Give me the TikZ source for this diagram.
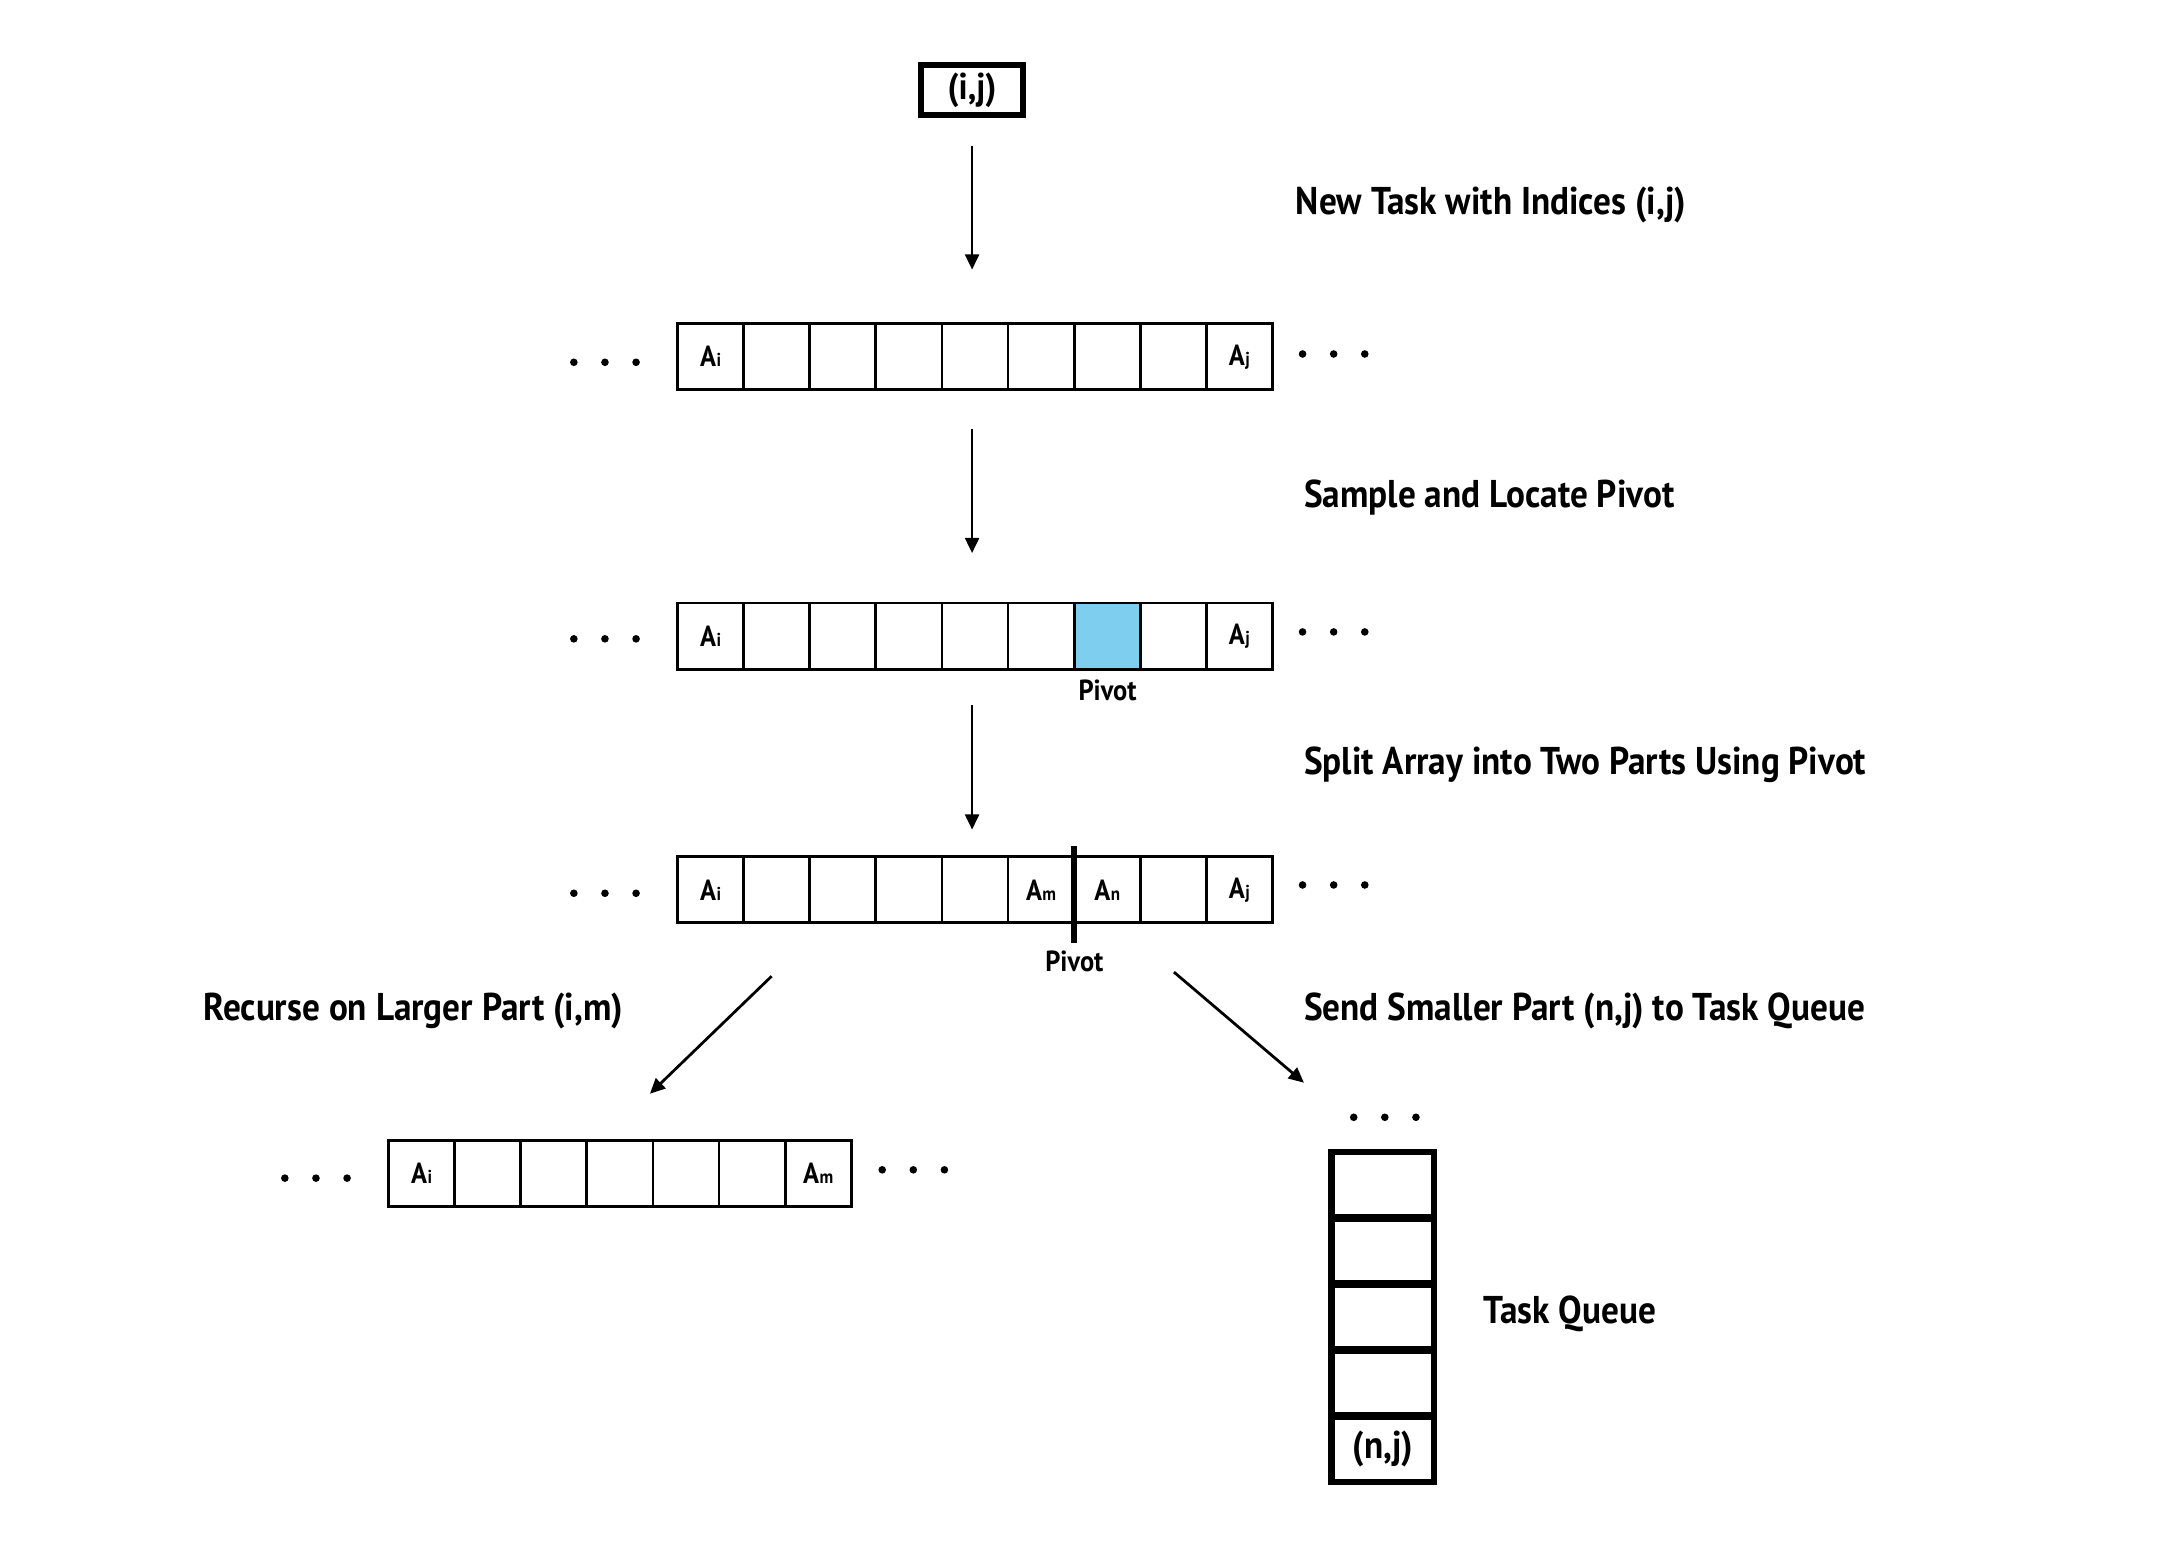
\documentclass[tikz,border=0pt]{standalone}
\usepackage{fontspec}
\setmainfont{PT Sans}[FakeStretch=0.91]
\usetikzlibrary{arrows.meta}
\definecolor{pivotblue}{RGB}{126,206,239}
\newcommand\Ax[1]{A\kern0.3pt{\fontsize{13.5}{15}\selectfont #1}}
\tikzset{
 cell/.style={draw, line width=2pt, minimum width=47.8pt, minimum height=47.8pt, inner sep=0pt, outer sep=0pt, font=\bfseries\fontsize{21}{24}\selectfont},
 lbl/.style={font=\bfseries\fontsize{28}{32}\selectfont, inner sep=0pt, anchor=west},
 smalllbl/.style={font=\bfseries\fontsize{21}{24}\selectfont, inner sep=0pt},
 arr/.style={line width=2pt, -{Triangle[length=11pt,width=10pt]}},
 blob/.style={circle, fill=black, inner sep=0pt, minimum size=5.5pt},
 qcell/.style={draw, line width=4.5pt, minimum width=74pt, minimum height=47.8pt, inner sep=0pt, outer sep=0pt, font=\bfseries\fontsize{28}{32}\selectfont},
}
\begin{document}
\begin{tikzpicture}[x=1pt,y=-1pt]
\useasboundingbox (0,0) rectangle (1565,1125);
% top box
\node[draw, line width=4.5pt, minimum width=74pt, minimum height=36pt, inner sep=0pt, font=\bfseries\fontsize{27}{30}\selectfont] (ij) at (703,65) {(i,j)};
% rows 1-3
\foreach \r/\y in {1/258, 2/460, 3/643.5}{
  \foreach \i in {1,...,9}{
    \node[cell] (r\r c\i) at ({490+47.8*(\i-0.5)},\y) {};
  }
}
\node[cell, fill=pivotblue] (r2c7) at ({490+47.8*6.5},460) {};
\foreach \r in {1,2,3}{
  \node[cell, draw=none] (t\r a) at (r\r c1) {\Ax{i}};
  \node[cell, draw=none] (t\r b) at (r\r c9) {\Ax{j}};
}
\node[cell, draw=none] (t3m) at (r3c6) {\Ax{m}};
\node[cell, draw=none] (t3n) at (r3c7) {\Ax{n}};
% row 4
\foreach \i in {1,...,7}{
  \node[cell] (r4c\i) at ({281+47.8*(\i-0.5)},848.5) {};
}
\node[cell, draw=none] (t4a) at (r4c1) {\Ax{i}};
\node[cell, draw=none] (t4b) at (r4c7) {\Ax{m}};
% pivot labels and divider
\node[smalllbl] (pv2) at (801,499) {Pivot};
\coordinate (dvt) at (777,612);
\coordinate (dvb) at (777,682);
\draw[line width=4.4pt] (dvt) -- (dvb);
\node[smalllbl] (pv3) at (777,695) {Pivot};
% dots
\foreach \n/\x/\y in {L1/415/262, L2/415/462, L3/415/646, L4/206/852, R1/942/256, R2/942/457, R3/942/640, R4/638/846, Q/979/808}{
  \foreach \k in {0,1,2}{
    \node[blob] (d\n\k) at ({\x+22.5*\k},\y) {};
  }
}
% queue
\foreach \k in {1,...,5}{
  \node[qcell] (q\k) at (1000,{833+47.8*(\k-0.5)}) {};
}
\node[qcell, draw=none] (qt) at (q5) {(n,j)};
\foreach \k in {1,...,4}{
  \draw[line width=5.6pt] (q\k.south west) -- (q\k.south east);
}
% arrows
\coordinate (a1e) at (703,195);
\coordinate (a2s) at (703,310);
\coordinate (a2e) at (703,400);
\coordinate (a3s) at (703,510);
\coordinate (a3e) at (703,600);
\coordinate (dls) at (558,706);
\coordinate (dle) at (470,791);
\coordinate (drs) at (849,703);
\coordinate (dre) at (943,783);
\draw[arr, shorten <=20pt] (ij.south) -- (a1e);
\draw[arr] (a2s) -- (a2e);
\draw[arr] (a3s) -- (a3e);
\draw[arr] (dls) -- (dle);
\draw[arr] (drs) -- (dre);
% labels
\node[lbl] (l1) at (937,148) {New Task with Indices (i,j)};
\node[lbl] (l2) at (943,360) {Sample and Locate Pivot};
\node[lbl] (l3) at (943,553) {Split Array into Two Parts Using Pivot};
\node[lbl] (l4) at (147,731) {Recurse on Larger Part (i,m)};
\node[lbl] (l5) at (943,731) {Send Smaller Part (n,j) to Task Queue};
\node[lbl] (l6) at (1073,950) {Task Queue};
\end{tikzpicture}
\end{document}
